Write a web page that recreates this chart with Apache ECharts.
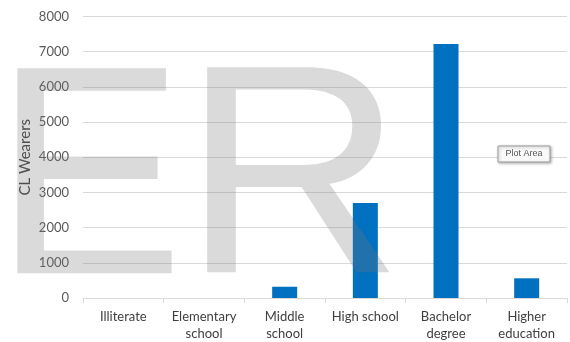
<!DOCTYPE html>
<html><head><meta charset="utf-8">
<script src="https://cdn.jsdelivr.net/npm/echarts@6/dist/echarts.min.js"></script>
<style>html,body{margin:0;padding:0;background:#fff}#c{width:570px;height:342px}</style>
</head><body><div id="c"></div>
<script>
const categories = ['Illiterate', 'Elementary\nschool', 'Middle\nschool', 'High school', 'Bachelor\ndegree', 'Higher\neducation'];
const wearers = [0, 0, 320, 2700, 7220, 560];
const yTicks = [0, 1000, 2000, 3000, 4000, 5000, 6000, 7000, 8000];
const axisTitle = 'CL Wearers';

const chart = echarts.init(document.getElementById('c'));
const wm = 'rgba(120,120,120,0.27)';
chart.setOption({
  animation: false,
  grid: {left: 83, right: 3, top: 16.5, bottom: 43},
  xAxis: {
    type: 'category', data: categories,
    axisLine: {lineStyle: {color: '#d9d9d9', width: 1}},
    axisTick: {show: true, length: 5, lineStyle: {color: '#d9d9d9'}},
    axisLabel: {color: '#404040', fontFamily: 'Lato', fontSize: 13, margin: 10, lineHeight: 17, interval: 0}
  },
  yAxis: {
    type: 'value', min: yTicks[0], max: yTicks[yTicks.length - 1], interval: 1000,
    name: axisTitle, nameLocation: 'middle', nameGap: 50, nameRotate: 90, nameMoveOverlap: false,
    nameTextStyle: {color: '#404040', fontFamily: 'Lato', fontSize: 15},
    axisLine: {show: false}, axisTick: {show: false},
    splitLine: {lineStyle: {color: '#d9d9d9', width: 1}},
    axisLabel: {color: '#595959', fontFamily: 'Lato', fontSize: 13, margin: 14, formatter: v => String(v)}
  },
  series: [{
    type: 'bar', data: wearers, barWidth: 25,
    itemStyle: {color: '#0070c0'}
  }],
  graphic: [
    {type: 'text', x: -6, y: 42, scaleX: 0.955, z: 100, silent: true,
     style: {text: 'E', font: '298px "Liberation Sans"', fill: wm, verticalAlign: 'top'}},
    {type: 'text', x: 182, y: 41, scaleX: 1.03, z: 100, silent: true,
     style: {text: 'R', font: '298px "Liberation Sans"', fill: wm, verticalAlign: 'top'}},
    {type: 'rect', shape: {x: 498, y: 146, width: 52, height: 16}, z: 101,
     style: {fill: '#fafafa', stroke: '#9a9a9a', lineWidth: 1, shadowBlur: 3, shadowOffsetX: 1, shadowOffsetY: 1, shadowColor: 'rgba(0,0,0,0.3)'}},
    {type: 'text', x: 524, y: 154, z: 102,
     style: {text: 'Plot Area', font: '9px "Liberation Sans"', fill: '#555', align: 'center', verticalAlign: 'middle'}}
  ]
});
</script></body></html>
